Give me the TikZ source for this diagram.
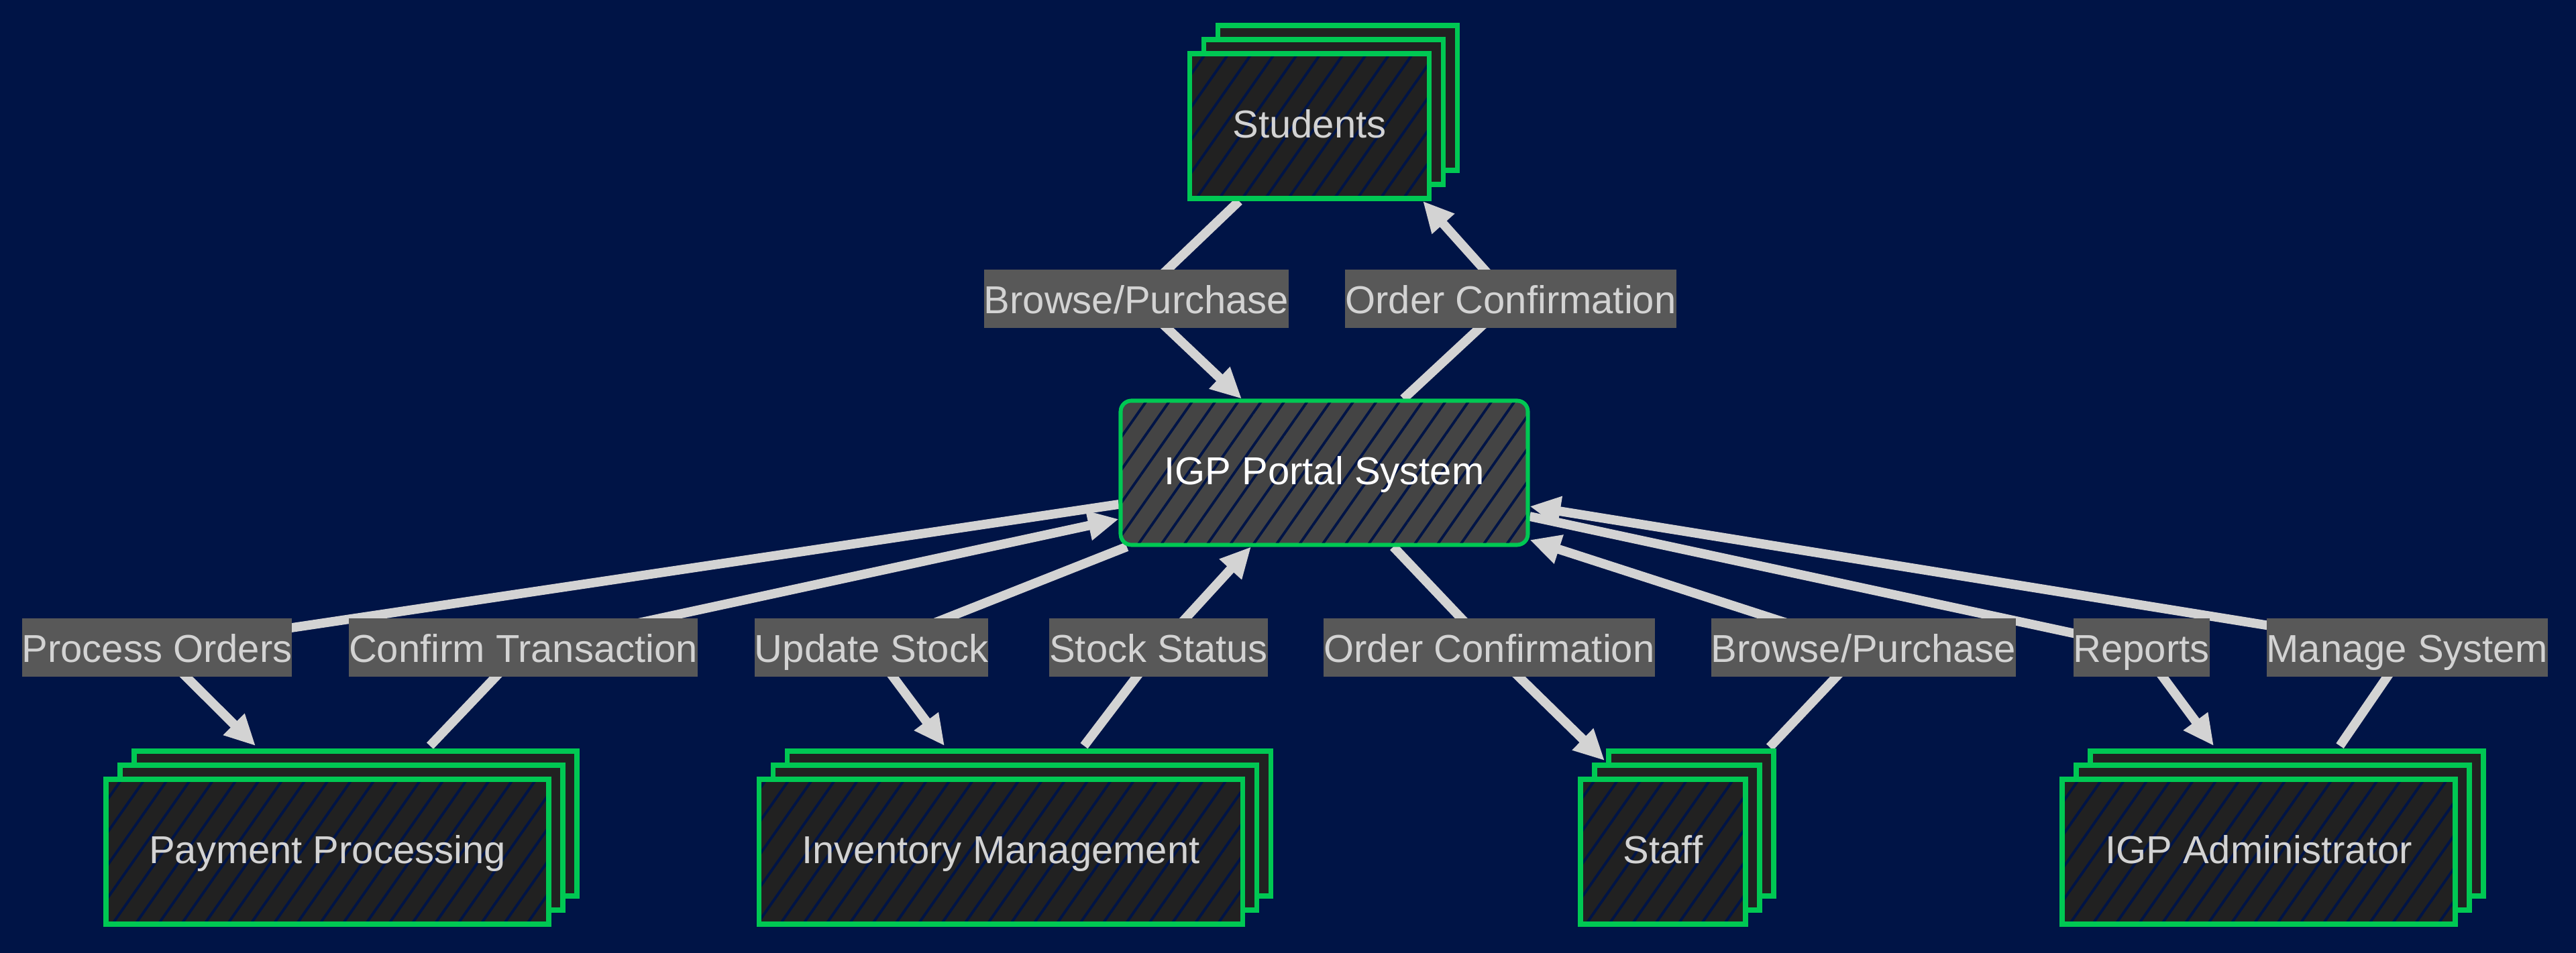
\documentclass[tikz,border=0pt]{standalone}
\usepackage{fontspec}
\setmainfont{Liberation Sans}
\usepackage{tikz}
\usetikzlibrary{arrows.meta,positioning,shadows,patterns.meta}
\definecolor{igp-bg}{HTML}{001446}
\definecolor{igp-green}{HTML}{00C853}
\definecolor{igp-box}{HTML}{212121}
\definecolor{igp-core}{HTML}{444444}
\definecolor{igp-label}{HTML}{585858}
\definecolor{igp-text}{HTML}{D3D3D3}
\pgfdeclarelayer{bg}
\pgfdeclarelayer{edges}
\pgfsetlayers{bg,edges,main}

\tikzset{
  hatch/.style={postaction={pattern={Lines[angle=55,distance=8pt,line width=1.1pt]}, pattern color=igp-bg},
    postaction={draw=#1}},
  actor/.style={draw=igp-green, line width=2.2pt, fill=igp-box, text=igp-text,
    minimum height=2.16cm, inner xsep=0.64cm, text height=0.43cm, text depth=0.08cm,
    double copy shadow={shadow xshift=0.21cm, shadow yshift=0.21cm}, hatch=igp-green},
  core/.style={draw=igp-green, line width=1.6pt, fill=igp-core, text=white, rounded corners=0.16cm,
    minimum height=2.15cm, inner xsep=0.65cm, text height=0.43cm, text depth=0.08cm, hatch=igp-green},
  elabel/.style={fill=igp-label, text=igp-text, minimum height=0.87cm, inner xsep=0pt, inner ysep=0pt,
    text height=0.43cm, text depth=0cm},
  flow/.style={draw=igp-text, line width=3.9pt, -{Triangle[length=13pt,width=12pt]}}
}

\begin{document}
\begin{tikzpicture}[font=\fontsize{16.5pt}{20pt}\selectfont]
  \useasboundingbox (0,0) rectangle (38.4,14.21);
  \begin{pgfonlayer}{bg}
    \fill[igp-bg] (0,0) rectangle (38.4,14.21);
  \end{pgfonlayer}

  % portal and its users
  \node[core] (portal) at (19.74,7.16) {IGP Portal System};
  \node[actor] (stud) at (19.52,12.33) {Students};
  \node[actor] (pay) at (4.88,1.51) {Payment Processing};
  \node[actor] (inv) at (14.92,1.51) {Inventory Management};
  \node[actor] (staff) at (24.79,1.51) {Staff};
  \node[actor] (adm) at (33.67,1.51) {IGP Administrator};

  % edge labels
  \node[elabel] (lBuyTop) at (16.94,9.75) {Browse/Purchase};
  \node[elabel] (lOrdTop) at (22.52,9.75) {Order Confirmation};
  \node[elabel] (lProc) at (2.34,4.55) {Process Orders};
  \node[elabel] (lConf) at (7.80,4.55) {Confirm Transaction};
  \node[elabel] (lUpd) at (12.99,4.55) {Update Stock};
  \node[elabel] (lStat) at (17.27,4.55) {Stock Status};
  \node[elabel] (lOrd) at (22.20,4.55) {Order Confirmation};
  \node[elabel] (lBuy) at (27.78,4.55) {Browse/Purchase};
  \node[elabel] (lRep) at (31.92,4.55) {Reports};
  \node[elabel] (lMan) at (35.88,4.55) {Manage System};

  \begin{pgfonlayer}{edges}
    \draw[flow] ([xshift=-1.05cm]stud.south) -- (lBuyTop.center) -- ([xshift=-1.23cm]portal.north);
    \draw[flow] ([xshift=1.18cm]portal.north) -- (lOrdTop.center) -- ([xshift=1.69cm]stud.south);
    \draw[flow] ([yshift=-0.47cm]portal.west) -- (lProc.center) -- ([shift={(-1.07,0.46)}]pay.north);
    \draw[flow] ([shift={(1.53,0.46)}]pay.north) -- (lConf.center) -- ([yshift=-0.69cm]portal.west);
    \draw[flow] ([xshift=0.12cm]portal.south west) -- (lUpd.center) -- ([shift={(-0.84,0.46)}]inv.north);
    \draw[flow] ([shift={(1.24,0.46)}]inv.north) -- (lStat.center) -- ([xshift=-1.09cm]portal.south);
    \draw[flow] ([xshift=1.03cm]portal.south) -- (lOrd.center) -- ([shift={(-0.87,0.24)}]staff.north);
    \draw[flow] ([shift={(1.59,0.44)}]staff.north) -- (lBuy.center) -- ([yshift=-1.0cm]portal.east);
    \draw[flow] ([yshift=-0.65cm]portal.east) -- (lRep.center) -- ([shift={(-0.67,0.46)}]adm.north);
    \draw[flow] ([shift={(1.21,0.46)}]adm.north) -- (lMan.center) -- ([yshift=-0.5cm]portal.east);
  \end{pgfonlayer}
\end{tikzpicture}
\end{document}
